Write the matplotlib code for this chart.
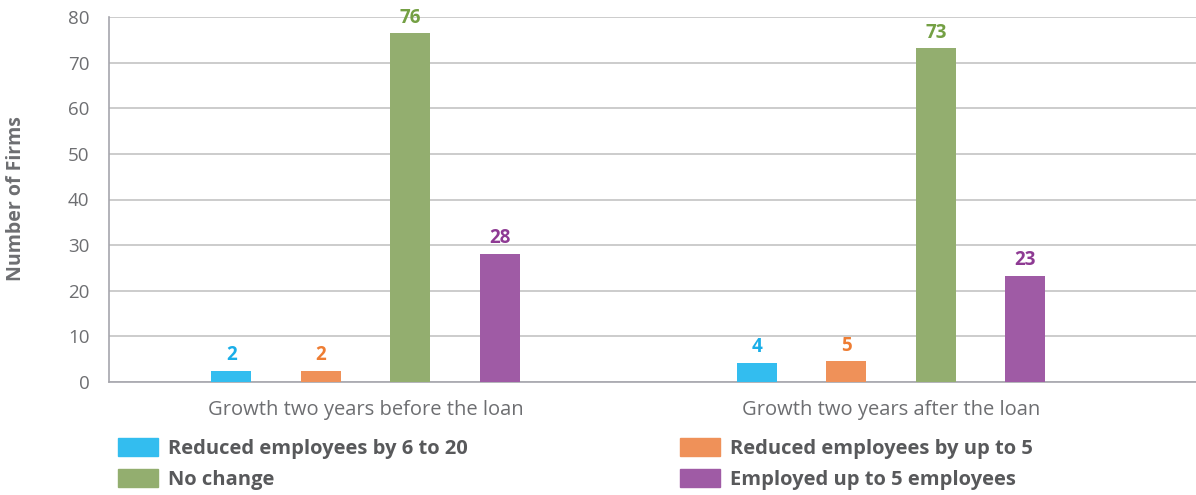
import numpy as np
import matplotlib
matplotlib.use("Agg")
import matplotlib.pyplot as plt
from matplotlib.patches import Patch

groups = ["Growth two years before the loan", "Growth two years after the loan"]
series = ["Reduced employees by 6 to 20", "Reduced employees by up to 5",
          "No change", "Employed up to 5 employees"]
reduced_6_20 = [2.4, 4.2]
reduced_up_to_5 = [2.4, 4.5]
no_change = [76.4, 73.1]
employed_up_to_5 = [28.1, 23.3]
labels = [["2", "4"], ["2", "5"], ["76", "73"], ["28", "23"]]

bar_colors = ["#33bdef", "#ef9159", "#93ae6f", "#9f5ba5"]
label_colors = ["#1aaee8", "#ee7d33", "#74a044", "#8e3a93"]
grey = "#6d6e71"

plt.rcParams["font.family"] = ["Open Sans", "DejaVu Sans"]

fig = plt.figure(figsize=(11.96, 4.95), dpi=100)
ax = fig.add_axes([109 / 1196, 1 - 382 / 495, 1 - 109 / 1196, (382 - 17) / 495])

x = np.arange(len(groups))
step = 0.170
width = 0.076
values = [reduced_6_20, reduced_up_to_5, no_change, employed_up_to_5]
for i, vals in enumerate(values):
    pos = x + (i - 1.5) * step
    bars = ax.bar(pos, vals, width, color=bar_colors[i], zorder=3)
    for b, lab in zip(bars, labels[i]):
        ax.annotate(lab, (b.get_x() + b.get_width() / 2, b.get_height()),
                    xytext=(0, 4), textcoords="offset points",
                    ha="center", va="bottom", fontsize=13.5,
                    fontweight="bold", color=label_colors[i])

ax.set_ylim(0, 80)
ax.set_xlim(-0.488, 1.58)
ax.set_yticks(range(0, 81, 10))
ax.set_xticks(x)
ax.set_xticklabels(groups, fontsize=14.5, color=grey)
ax.tick_params(axis="y", length=0, pad=14, labelsize=13.5, labelcolor=grey)
ax.tick_params(axis="x", length=0, pad=13)
ax.yaxis.grid(True, color="#c3c3c3", linewidth=1.2, zorder=0)
ax.set_axisbelow(True)
for s in ["top", "right"]:
    ax.spines[s].set_visible(False)
ax.spines["left"].set_color("#a6a6ad")
ax.spines["bottom"].set_color("#a6a6ad")
ax.spines["left"].set_linewidth(1.2)
ax.spines["bottom"].set_linewidth(1.2)

fig.text(16 / 1196, 1 - 199 / 495, "Number of Firms", rotation=90,
         ha="center", va="center", fontsize=14, fontweight="bold", color=grey)

order = [0, 2, 1, 3]
handles = [Patch(color=bar_colors[i]) for i in order]
leg = fig.legend(handles, [series[i] for i in order], ncol=2,
                 loc="upper left", bbox_to_anchor=(100 / 1196, 1 - 420 / 495),
                 frameon=False, handlelength=2.0, handleheight=1.0,
                 handletextpad=0.5, columnspacing=10.5, labelspacing=0.5,
                 borderpad=0.4, prop={"size": 14.5, "weight": "bold"})
for t in leg.get_texts():
    t.set_color("#58595b")

fig.savefig("out.png", dpi=100)
